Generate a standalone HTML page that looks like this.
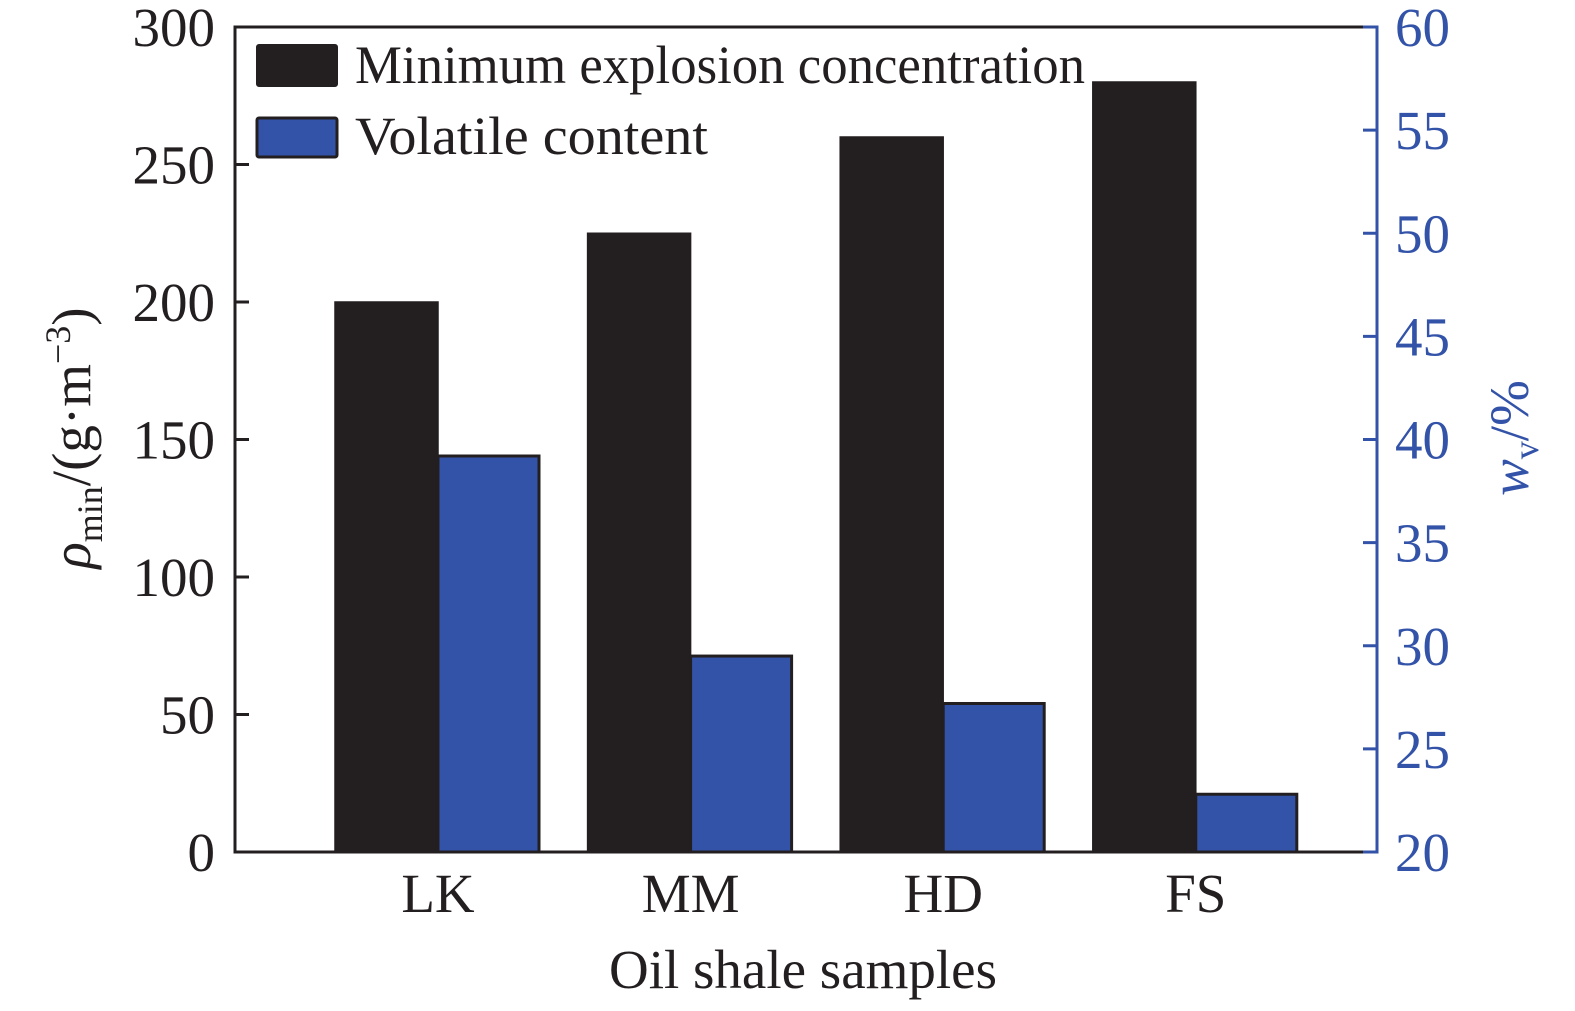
<!DOCTYPE html>
<html><head><meta charset="utf-8"><style>
html,body{margin:0;padding:0;background:#fff;}
svg{display:block;font-family:"Liberation Serif",serif;}
</style></head><body>
<svg id="chart" width="1575" height="1011" viewBox="0 0 1575 1011"></svg>
<script>
const categories = ["LK","MM","HD","FS"];
const minExplosion = [200, 225, 260, 280];
const volatile = [39.2, 29.5, 27.2, 22.8];
const leftTicks = [0,50,100,150,200,250,300];
const rightTicks = [20,25,30,35,40,45,50,55,60];

const NS="http://www.w3.org/2000/svg";
const svg=document.getElementById('chart');
const X0=235, X1=1377, Y0=852, Y1=27;
const yL=v=>Y0-(v/300)*(Y0-Y1);
const yR=v=>Y0-((v-20)/40)*(Y0-Y1);
const xC=i=>438+i*252.6;
function el(tag,attrs,text){const e=document.createElementNS(NS,tag);for(const k in attrs)e.setAttribute(k,attrs[k]);if(text!==undefined)e.textContent=text;svg.appendChild(e);return e;}

categories.forEach((c,i)=>{
  const b=el('rect',{x:xC(i)-103,y:yL(minExplosion[i]),width:103,height:Y0-yL(minExplosion[i]),fill:'#231f20',stroke:'#231f20','stroke-width':1.5});
  
  
  const v=el('rect',{x:xC(i),y:yR(volatile[i]),width:101,height:Y0-yR(volatile[i]),fill:'#3353a9',stroke:'#231f20','stroke-width':3});
  
  
  const t=el('text',{x:xC(i),y:912,'font-size':55,'text-anchor':'middle',fill:'#231f20'},c);
  
  
});

let a=el('line',{x1:X0,y1:Y1,x2:X0,y2:Y0,stroke:'#231f20','stroke-width':3});

a=el('line',{x1:X0-1.5,y1:Y0,x2:X1-12,y2:Y0,stroke:'#231f20','stroke-width':3});

a=el('line',{x1:X0-1.5,y1:Y1,x2:X1-12,y2:Y1,stroke:'#231f20','stroke-width':3});

a=el('line',{x1:X1,y1:Y1-1.5,x2:X1,y2:Y0+1.5,stroke:'#3353a9','stroke-width':3});


leftTicks.forEach(v=>{
  const tk=el('line',{x1:X0,y1:yL(v),x2:X0+14,y2:yL(v),stroke:'#231f20','stroke-width':3});
  
  const t=el('text',{x:215,y:yL(v)+19,'font-size':55,'text-anchor':'end',fill:'#231f20'},v);
  
});
rightTicks.forEach(v=>{
  const tk=el('line',{x1:X1,y1:yR(v),x2:X1-14,y2:yR(v),stroke:'#3353a9','stroke-width':3});
  
  const t=el('text',{x:1395,y:yR(v)+19,'font-size':55,'text-anchor':'start',fill:'#3353a9'},v);
  
});
</script>
<script>
(function(){
const svg=document.getElementById('chart');
svg.insertAdjacentHTML('beforeend',`
<g>
<rect x="257" y="45" width="80" height="41" rx="2" fill="#231f20" stroke="#231f20" stroke-width="2"/>
<text x="355" y="83" font-size="54" textLength="730" lengthAdjust="spacingAndGlyphs" fill="#231f20">Minimum explosion concentration</text>
<rect x="257" y="118" width="80" height="39" rx="2" fill="#3353a9" stroke="#231f20" stroke-width="3"/>
<text x="355" y="154" font-size="54" textLength="353" lengthAdjust="spacingAndGlyphs" fill="#231f20">Volatile content</text>
</g>
<text x="803" y="988" font-size="55" text-anchor="middle" fill="#231f20">Oil shale samples</text>
<text transform="translate(90,438) rotate(-90)" font-size="55" text-anchor="middle" fill="#231f20"><tspan font-style="italic">ρ</tspan><tspan font-size="36" dy="12">min</tspan><tspan dy="-12">/(g·m</tspan><tspan font-size="36" dy="-20">−3</tspan><tspan dy="20">)</tspan></text>
<text transform="translate(1528,438) rotate(-90)" font-size="55" text-anchor="middle" fill="#3353a9"><tspan font-style="italic">w</tspan><tspan font-size="36" dy="10">v</tspan><tspan dy="-10">/%</tspan></text>
`);
})();
</script>
</body></html>
